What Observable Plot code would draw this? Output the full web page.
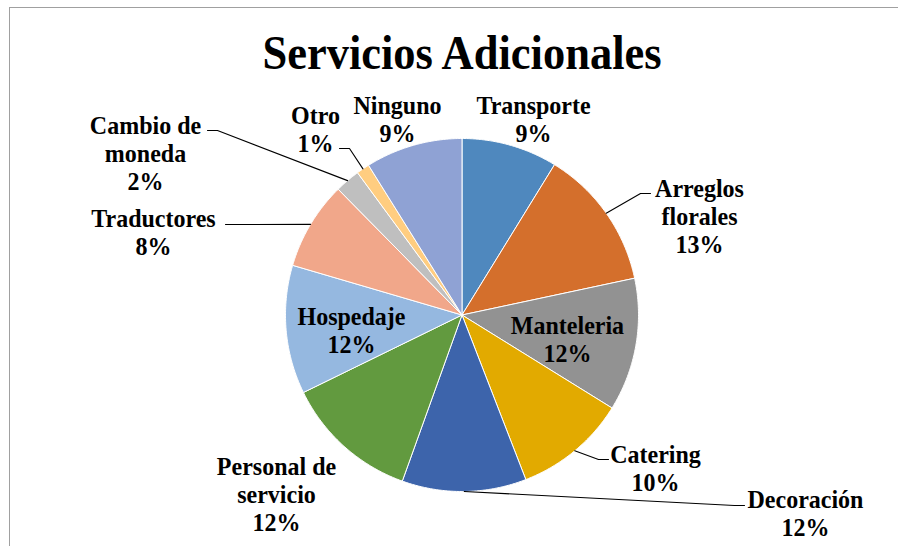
<!DOCTYPE html>
<html>
<head>
<meta charset="utf-8">
<script src="https://cdn.jsdelivr.net/npm/d3@7"></script>
<script src="https://cdn.jsdelivr.net/npm/@observablehq/plot@0.6"></script>
<style>
  html, body { margin: 0; padding: 0; background: #fff; }
  #wrap { position: relative; width: 898px; height: 546px; overflow: hidden; }
  #frame { position: absolute; left: 9px; top: 7px; width: 900px; height: 600px;
           border-top: 1.5px solid #a0a0a0; border-left: 1.5px solid #a0a0a0; pointer-events: none; }
</style>
</head>
<body>
<div id="wrap"><div id="frame"></div></div>
<script>
// ---- data ----
const title = "Servicios Adicionales";
const categories = ["Transporte", "Arreglos florales", "Manteleria", "Catering", "Decoración",
  "Personal de servicio", "Hospedaje", "Traductores", "Cambio de moneda", "Otro", "Ninguno"];
const shares = [8.8, 12.9, 12.2, 10.3, 11.4, 12.3, 11.8, 8.1, 2.3, 1.2, 8.9];
const percentLabels = ["9%", "13%", "12%", "10%", "12%", "12%", "12%", "8%", "2%", "1%", "9%"];
const labelText = ["Transporte", "Arreglos\nflorales", "Manteleria", "Catering", "Decoración",
  "Personal de\nservicio", "Hospedaje", "Traductores", "Cambio de\nmoneda", "Otro", "Ninguno"];
const colors = ["#4F88BE", "#D46F2C", "#929292", "#E2AA00", "#3D64AB",
  "#629A3F", "#95B8E0", "#F1A78A", "#BFBFBF", "#FFCD80", "#8FA2D4"];

// ---- layout (pixels) ----
const W = 898, H = 546;
const CX = 461.5, CY = 314.5, R = 176.5;
// label anchor: centre x and first-line baseline, offset from pie centre
const labelPos = [[71.5, -202.5], [237.5, -119.5], [105.5, 17.5], [193.5, 146.5], [343.5, 191.5],
  [-185.5, 158.5], [-110.5, 8.5], [-308.5, -89.5], [-316.5, -182.5], [-146.5, -192.5], [-64.5, -202.5]];
// leader-line end next to the label (null = no leader)
const leaderEnd = [null, [188.5, -121.5], null, [146.5, 144.5], [282.5, 190.5],
  null, null, [-236.5, -90.5], [-254.5, -184.5], [-122.5, -166.5], null];

const FONT = "Liberation Serif";
const FS = 24, KL = 1.07, LH = 28 / (24 * KL);   // labels: size, vertical stretch, line height (em)
const TFS = 44.5, KT = 1.1;                      // title: size, vertical stretch

// ---- geometry in units of the radius ----
const total = d3.sum(shares);
let acc = 0;
const slices = categories.map((name, i) => {
  const a0 = acc / total * 2 * Math.PI;
  acc += shares[i];
  const a1 = acc / total * 2 * Math.PI;
  return {name, i, a0, a1, mid: (a0 + a1) / 2};
});
const polyPts = [];
for (const s of slices) {
  polyPts.push({name: s.name, x: 0, y: 0});
  const n = Math.max(2, Math.ceil((s.a1 - s.a0) / (Math.PI / 360)));
  for (let k = 0; k <= n; k++) {
    const a = s.a0 + (s.a1 - s.a0) * k / n;
    polyPts.push({name: s.name, x: Math.sin(a), y: -Math.cos(a)});
  }
  polyPts.push({name: s.name, x: 0, y: 0});
}
const leaderPts = [];
slices.forEach((s, i) => {
  const e = leaderEnd[i];
  if (!e) return;
  const ex = e[0] / R, ey = e[1] / R;
  const elbowX = ex - Math.sign(ex) * 10 / R;
  leaderPts.push({name: s.name, x: Math.sin(s.mid), y: -Math.cos(s.mid)});
  leaderPts.push({name: s.name, x: elbowX, y: ey});
  leaderPts.push({name: s.name, x: ex, y: ey});
});
const labels = slices.map((s, i) => ({
  name: s.name,
  text: labelText[i] + "\n" + percentLabels[i],
  x: labelPos[i][0] / R,
  y: (labelPos[i][1] - 0.71 * FS * KL) / R
}));
const titleData = [{text: title, x: 0, y: (68 - CY - 0.71 * TFS * KT) / R}];

const chart = Plot.plot({
  width: W, height: H,
  margin: 0,
  x: {domain: [-CX / R, (W - CX) / R], range: [0, W], axis: null},
  y: {domain: [-CY / R, (H - CY) / R], range: [0, H], axis: null},
  color: {domain: categories, range: colors},
  style: {background: "transparent", overflow: "visible", fontFamily: FONT},
  marks: [
    Plot.line(polyPts, {x: "x", y: "y", z: "name", fill: "name", stroke: "white", strokeWidth: 1, curve: "linear"}),
    Plot.line(leaderPts, {x: "x", y: "y", z: "name", stroke: "#000", strokeWidth: 1.1, curve: "linear"}),
    Plot.text(labels, {x: "x", y: "y", text: "text", lineAnchor: "top", textAnchor: "middle",
      lineHeight: LH, fontSize: FS, fontWeight: "bold", fontFamily: FONT, fill: "#000"}),
    Plot.text(titleData, {x: "x", y: "y", text: "text", lineAnchor: "top", textAnchor: "middle",
      fontSize: TFS, fontWeight: "bold", fontFamily: FONT, fill: "#000"})
  ]
});
// Times-like glyphs in the reference are slightly taller than wide: stretch vertically
d3.select(chart).selectAll("text").each(function () {
  this.style.fontFamily = FONT;
  this.style.fontWeight = "bold";
  const k = this.textContent === title ? KT : KL;
  const t = this.getAttribute("transform");
  if (t) {
    this.setAttribute("transform", t + ` scale(1,${k})`);
  } else {
    const x = +this.getAttribute("x") || 0, y = +this.getAttribute("y") || 0;
    this.removeAttribute("x"); this.removeAttribute("y");
    this.setAttribute("transform", `translate(${x},${y}) scale(1,${k})`);
  }
});
chart.style.position = "absolute";
chart.style.left = "0px";
chart.style.top = "0px";
document.getElementById("wrap").prepend(chart);
</script>
</body>
</html>
